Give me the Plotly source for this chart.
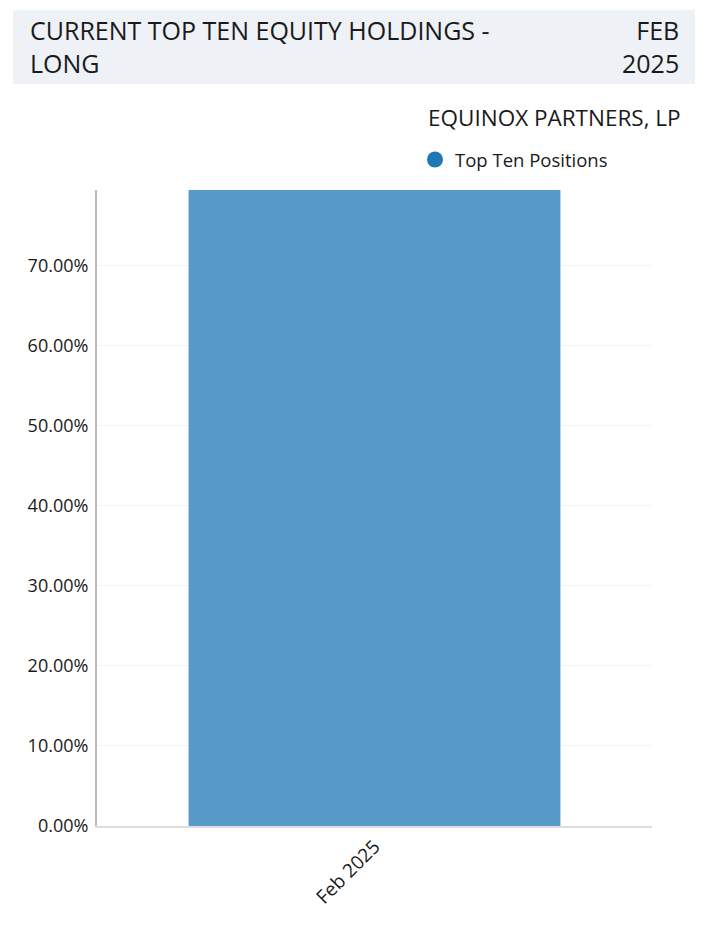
import plotly.graph_objects as go

# Data
categories = ["Feb 2025"]
top_ten_share = [0.794]
series_name = "Top Ten Positions"

title_left = "CURRENT TOP TEN EQUITY HOLDINGS -<br>LONG"
title_right = "FEB<br>2025"
subtitle = "EQUINOX PARTNERS, LP"

W, H = 713, 925
ML, MR, MT, MB = 97, 61, 190, 99
PW, PH = W - ML - MR, H - MT - MB
FONT = "'Open Sans', Lato, sans-serif"
INK = "#1a1a1a"


def px_x(x):
    return (x - ML) / PW


def px_y(y):
    return (H - MB - y) / PH


fig = go.Figure()
fig.add_trace(go.Bar(
    x=categories, y=top_ten_share, name=series_name,
    marker=dict(color="#1f77b4", line=dict(width=0)), opacity=0.75,
    showlegend=False, hoverinfo="skip",
))
# legend entry with a round marker
fig.add_trace(go.Scatter(
    x=[None], y=[None], mode="markers", name=series_name,
    marker=dict(color="#1f77b4", size=16, symbol="circle"),
))

fig.update_layout(
    width=W, height=H,
    margin=dict(l=ML, r=MR, t=MT, b=MB, pad=0),
    paper_bgcolor="white", plot_bgcolor="white",
    font=dict(family=FONT, color=INK, size=16),
    bargap=0.33,
    showlegend=True,
    legend=dict(orientation="h", x=px_x(415), xanchor="left",
                y=px_y(160), yanchor="middle",
                font=dict(size=18.5, color=INK),
                bgcolor="rgba(0,0,0,0)", itemsizing="trace"),
    xaxis=dict(type="category", tickangle=-45, showgrid=False,
               showline=True, linecolor="#dddddd", linewidth=2,
               ticks="", tickfont=dict(size=19, color=INK),
               fixedrange=True),
    yaxis=dict(range=[0, top_ten_share[0]], dtick=0.1, tick0=0,
               tickformat=".2%", showgrid=True, gridcolor="#f3f3f3",
               gridwidth=1, zeroline=False,
               showline=True, linecolor="#bbbbbb", linewidth=2,
               ticks="", ticklabelstandoff=3,
               tickfont=dict(size=18, color=INK), fixedrange=True),
    shapes=[dict(type="rect", xref="paper", yref="paper",
                 x0=px_x(13), x1=px_x(695), y0=px_y(84), y1=px_y(10),
                 fillcolor="#eef1f6", line=dict(width=0), layer="below")],
    annotations=[
        dict(text=title_left, xref="paper", yref="paper",
             x=px_x(28), y=px_y(46), xanchor="left", yanchor="middle",
             align="left", showarrow=False,
             font=dict(size=25, color=INK, family=FONT)),
        dict(text=title_right, xref="paper", yref="paper",
             x=px_x(681), y=px_y(46), xanchor="right", yanchor="middle",
             align="right", showarrow=False,
             font=dict(size=25, color=INK, family=FONT)),
        dict(text=subtitle, xref="paper", yref="paper",
             x=px_x(683), y=px_y(117), xanchor="right", yanchor="middle",
             showarrow=False,
             font=dict(size=22.5, color=INK, family=FONT)),
    ],
)

fig.write_html("out.html")
